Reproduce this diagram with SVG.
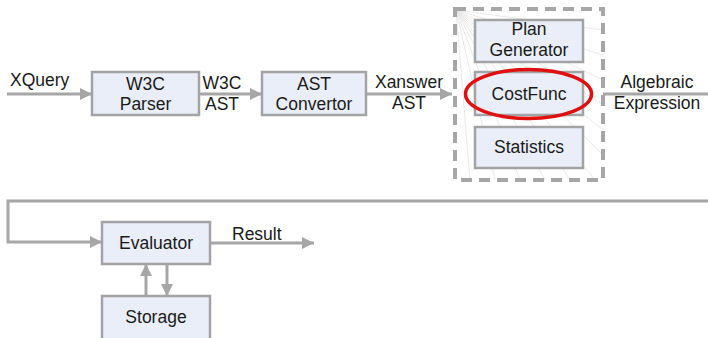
<svg xmlns="http://www.w3.org/2000/svg" width="708" height="338" viewBox="0 0 708 338">
<defs>
<marker id="ah" viewBox="0 0 10 10" refX="10" refY="5" markerWidth="4" markerHeight="4" orient="auto" markerUnits="strokeWidth">
<path d="M0,0 L10,5 L0,10 z" fill="#a6a6a6"/>
</marker>
<style>
.box{fill:#e9eef8;stroke:#a3a3a3;stroke-width:2.5}
.t{font-family:"Liberation Sans",Arial,sans-serif;font-size:17.5px;fill:#1a1a1a;text-anchor:middle}
.tl{font-family:"Liberation Sans",Arial,sans-serif;font-size:17.5px;fill:#1a1a1a}
.ln{fill:none;stroke:#a6a6a6;stroke-width:3}
.hatch{stroke:#e2e2e2;stroke-width:0.8}
</style>
</defs>
<rect width="708" height="338" fill="#ffffff"/>

<g id="hatching">
<line class="hatch" x1="456" y1="10" x2="603" y2="30"/>
<line class="hatch" x1="456" y1="10" x2="603" y2="55"/>
<line class="hatch" x1="456" y1="10" x2="603" y2="80"/>
<line class="hatch" x1="456" y1="10" x2="603" y2="105"/>
<line class="hatch" x1="456" y1="10" x2="603" y2="130"/>
<line class="hatch" x1="456" y1="10" x2="603" y2="155"/>
<line class="hatch" x1="456" y1="10" x2="595" y2="180"/>
<line class="hatch" x1="456" y1="10" x2="570" y2="180"/>
<line class="hatch" x1="456" y1="10" x2="545" y2="180"/>
<line class="hatch" x1="456" y1="10" x2="520" y2="180"/>
<line class="hatch" x1="456" y1="10" x2="495" y2="180"/>
<line class="hatch" x1="456" y1="10" x2="470" y2="180"/>
</g>

<g id="optimizer">
<rect x="455" y="9" width="148" height="171" fill="none" stroke="#a6a6a6" stroke-width="4" stroke-dasharray="11 7"/>
</g>

<g id="connectors">
<line class="ln" x1="7" y1="94" x2="92" y2="94" marker-end="url(#ah)"/>
<line class="ln" x1="199" y1="94" x2="262" y2="94" marker-end="url(#ah)"/>
<line class="ln" x1="366" y1="94" x2="452" y2="94" marker-end="url(#ah)"/>
<line class="ln" x1="603" y1="94" x2="708" y2="94"/>
<polyline class="ln" points="708,201 8,201 8,242 102,242" marker-end="url(#ah)"/>
<line class="ln" x1="210" y1="243" x2="314" y2="243" marker-end="url(#ah)"/>
<line class="ln" x1="146" y1="296" x2="146" y2="264" marker-end="url(#ah)"/>
<line class="ln" x1="167" y1="264" x2="167" y2="296" marker-end="url(#ah)"/>
</g>

<g id="labels">
<text class="tl" x="10" y="86">XQuery</text>
<text class="t" x="222" y="89">W3C</text>
<text class="t" x="222" y="110">AST</text>
<text class="t" x="409" y="88">Xanswer</text>
<text class="t" x="409" y="109">AST</text>
<text class="t" x="657" y="88">Algebraic</text>
<text class="t" x="657" y="109">Expression</text>
<text class="tl" x="232" y="240">Result</text>
</g>

<g id="w3c-parser">
<rect class="box" x="92" y="72" width="107" height="43"/>
<text class="t" x="145.5" y="90">W3C</text>
<text class="t" x="145.5" y="110">Parser</text>
</g>

<g id="ast-convertor">
<rect class="box" x="262" y="72" width="104" height="43"/>
<text class="t" x="314" y="90">AST</text>
<text class="t" x="314" y="110">Convertor</text>
</g>

<g id="plan-generator">
<rect class="box" x="475" y="20" width="108" height="42"/>
<text class="t" x="529" y="35">Plan</text>
<text class="t" x="529" y="56">Generator</text>
</g>

<g id="costfunc">
<rect class="box" x="475" y="72" width="108" height="43"/>
<text class="t" x="529" y="100">CostFunc</text>
<ellipse cx="528.5" cy="94" rx="63" ry="24.5" fill="none" stroke="#e01010" stroke-width="3.5"/>
</g>

<g id="statistics">
<rect class="box" x="475" y="127" width="108" height="41"/>
<text class="t" x="529" y="153">Statistics</text>
</g>

<g id="evaluator">
<rect class="box" x="102" y="222" width="108" height="42"/>
<text class="t" x="156" y="249">Evaluator</text>
</g>

<g id="storage">
<rect class="box" x="102" y="296" width="108" height="44"/>
<text class="t" x="156" y="323">Storage</text>
</g>
</svg>
